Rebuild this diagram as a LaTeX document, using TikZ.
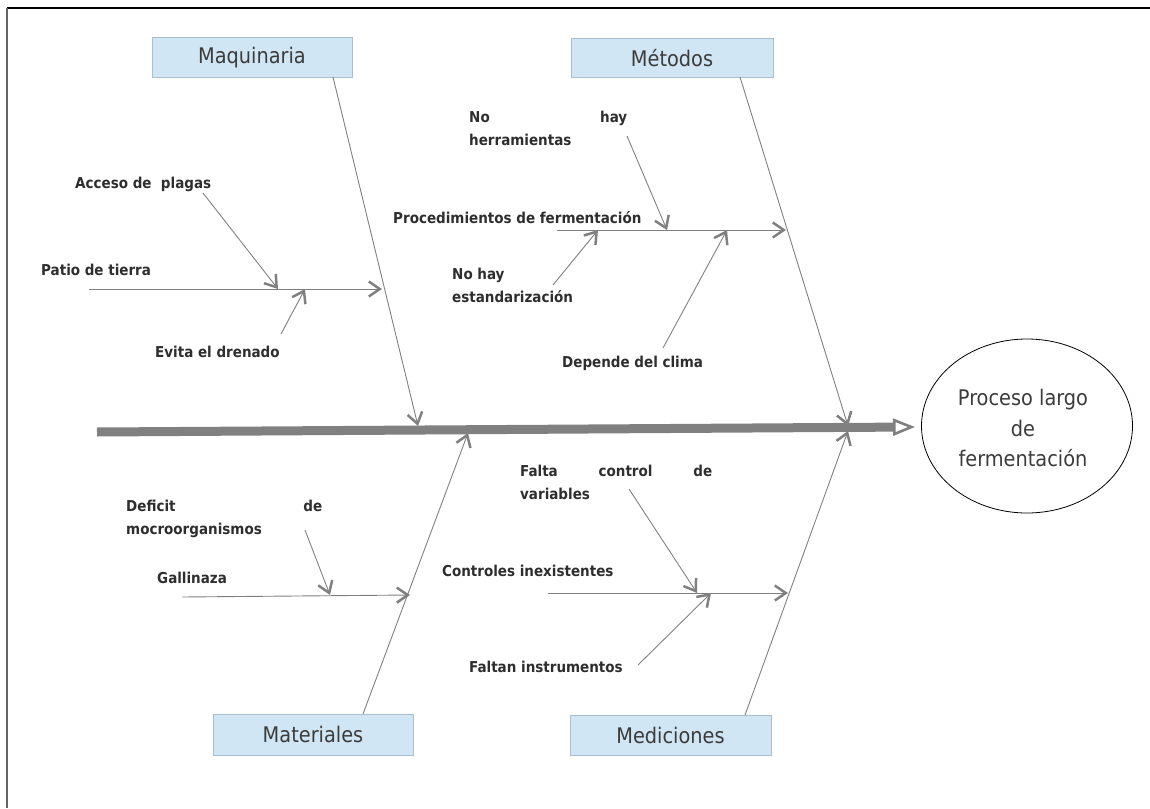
\documentclass[tikz,border=0pt]{standalone}
\usepackage{fontspec}
\setmainfont{DejaVu Sans}
\newfontfamily\condfont{DejaVu Sans Condensed}
\usetikzlibrary{arrows.meta,shapes.geometric}
\definecolor{bonegray}{HTML}{808080}
\definecolor{ink}{HTML}{2E2E2E}
\definecolor{catink}{HTML}{3C3C3C}
\definecolor{catfill}{HTML}{D0E6F4}
\definecolor{catedge}{HTML}{A9BFD0}
\begin{document}
\begin{tikzpicture}[x=1pt,y=-1pt,
  catbox/.style={draw=catedge, fill=catfill, line width=1pt, minimum width=200pt,
    minimum height=39pt, inner sep=0pt, text=catink,
    font=\condfont\fontsize{21.5}{25}\selectfont},
  cause/.style={inner sep=0pt, anchor=base west, text=ink, align=left,
    font=\condfont\bfseries\fontsize{15}{23}\selectfont},
  bone/.style={draw=bonegray, line width=0.9pt,
    -{Straight Barb[length=11pt,width=15pt,line width=2.5pt]}},
  spine/.style={draw=bonegray, line width=9pt,
    -{Triangle[open,fill=white,length=22pt,width=17pt,line width=2.6pt]}},
]
\useasboundingbox (0,0) rectangle (1150,808);

% page frame (top and left edges)
\draw[black, line width=1.3pt] (7,8) -- (1150,8);
\draw[gray!80!black, line width=1.6pt] (7,8) -- (7,808);

% effect
\node[draw=black, line width=0.8pt, ellipse, minimum width=211pt, minimum height=174pt,
  inner sep=0pt] (effect) at (1027,426) {};
\node[text=catink, align=center, font=\condfont\fontsize{21.5}{30.5}\selectfont]
  (effecttext) at (1023,428) {Proceso largo\\de\\fermentación};

% main spine
\coordinate (spineL) at (97,432);
\coordinate (spineR) at (915,427);
\draw[spine] (spineL) -- (spineR);

% category boxes
\node[catbox] (maq) at (252,57.5) {Maquinaria};
\node[catbox, minimum width=202pt] (met) at (672,58) {Métodos};
\node[catbox, minimum height=41pt] (mat) at (313,734.5) {Materiales};
\node[catbox, minimum width=201pt, minimum height=40pt] (med) at (670.5,735) {Mediciones};

% ---------- Maquinaria ----------
\coordinate (maqS) at (333,77);
\coordinate (maqT) at (418,426);
\draw[bone] (maqS) -- (maqT);

\node[cause] (patio) at (41,275) {Patio de tierra};
\coordinate (patioS) at (89,289);
\coordinate (patioT) at (382,289);
\draw[bone] (patioS) -- (patioT);

\node[cause] (acceso) at (75,188) {Acceso de\ \ plagas};
\coordinate (accesoS) at (203,193);
\coordinate (accesoT) at (278,289);
\draw[bone] (accesoS) -- (accesoT);

\node[cause] (evita) at (155,357) {Evita el drenado};
\coordinate (evitaS) at (281,334);
\coordinate (evitaT) at (305,289);
\draw[bone] (evitaS) -- (evitaT);

% ---------- Métodos ----------
\coordinate (metS) at (740,77);
\coordinate (metT) at (848,426);
\draw[bone] (metS) -- (metT);

\node[cause] (proc) at (393,223) {Procedimientos de fermentación};
\coordinate (procS) at (557,230);
\coordinate (procT) at (786,230);
\draw[bone] (procS) -- (procT);

\node[cause, text width=158pt] (herr) at (469,122) {No\hfill hay\\herramientas};
\coordinate (herrS) at (627,136);
\coordinate (herrT) at (667,230);
\draw[bone] (herrS) -- (herrT);

\node[cause] (estand) at (452,302) {No hay\\estandarización};
\coordinate (estandS) at (553,285);
\coordinate (estandT) at (598,230);
\draw[bone] (estandS) -- (estandT);

\node[cause] (clima) at (562,367) {Depende del clima};
\coordinate (climaS) at (663,348);
\coordinate (climaT) at (727,230);
\draw[bone] (climaS) -- (climaT);

% ---------- Materiales ----------
\coordinate (matS) at (363,714);
\coordinate (matT) at (468,433);
\draw[bone] (matS) -- (matT);

\node[cause] (galli) at (157,583) {Gallinaza};
\coordinate (galliS) at (182,597);
\coordinate (galliT) at (410,595);
\draw[bone] (galliS) -- (galliT);

\node[cause, text width=196pt] (deficit) at (126,511) {Deficit\hfill de\\mocroorganismos};
\coordinate (deficitS) at (305,530);
\coordinate (deficitT) at (330,595);
\draw[bone] (deficitS) -- (deficitT);

% ---------- Mediciones ----------
\coordinate (medS) at (745,715);
\coordinate (medT) at (848,431);
\draw[bone] (medS) -- (medT);

\node[cause] (ctrl) at (442,576) {Controles inexistentes};
\coordinate (ctrlS) at (548,593);
\coordinate (ctrlT) at (788,593);
\draw[bone] (ctrlS) -- (ctrlT);

\node[cause, text width=192pt] (falta) at (520,476) {Falta\hfill control\hfill de\\variables};
\coordinate (faltaS) at (629,489);
\coordinate (faltaT) at (697,593);
\draw[bone] (faltaS) -- (faltaT);

\node[cause] (instr) at (469,672) {Faltan instrumentos};
\coordinate (instrS) at (638,665);
\coordinate (instrT) at (711,593);
\draw[bone] (instrS) -- (instrT);
\end{tikzpicture}
\end{document}
